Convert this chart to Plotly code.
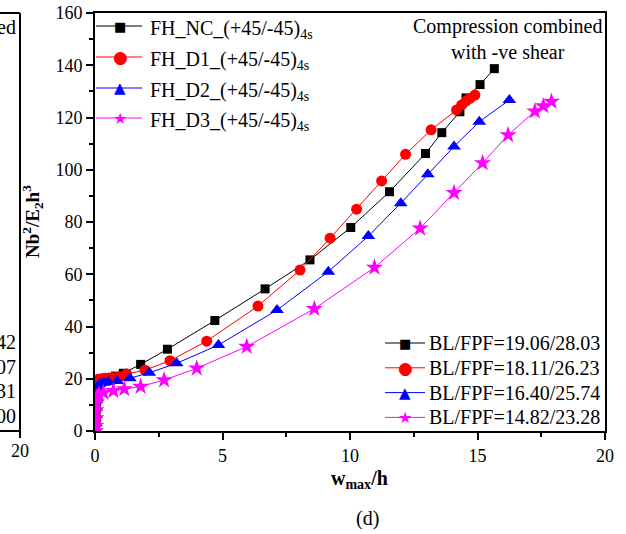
import plotly.graph_objects as go

# ---- data ----
nc_x = [0.02, 0.03, 0.04, 0.05, 0.06, 0.08, 0.12, 0.2, 0.35, 0.55, 0.8, 1.11, 1.79, 2.84, 4.7,
        6.67, 8.43, 10.03, 11.55, 12.96, 13.6, 14.31, 14.55, 15.1, 15.66]
nc_y = [0, 3, 6, 9, 12, 15, 17, 18.5, 19.5, 20.3, 21, 22.1, 25.5, 31.3, 42.3,
        54.4, 65.5, 77.9, 91.6, 106.2, 114.2, 122.2, 127.5, 132.6, 138.7]

d1_x = [0.02, 0.03, 0.04, 0.05, 0.07, 0.1, 0.13, 0.25, 0.39, 0.55, 0.72, 0.95, 1.24, 1.96, 2.94,
        4.38, 6.39, 8.04, 9.22, 10.26, 11.24, 12.18, 13.18, 14.18, 14.38, 14.55, 14.7, 14.9]
d1_y = [0, 4, 8, 12, 15, 17.5, 19.8, 20, 20.2, 20.3, 20.4, 20.8, 21.8, 23.3, 26.9,
        34.4, 47.8, 61.6, 73.8, 84.9, 95.7, 105.9, 115.3, 122.9, 124.8, 126.3, 127.3, 128.6]

d2_x = [0.02, 0.03, 0.04, 0.05, 0.06, 0.08, 0.12, 0.2, 0.35, 0.52, 0.87, 1.37, 2.13, 3.2, 4.84,
        7.14, 9.15, 10.72, 11.99, 13.05, 14.08, 15.07, 16.25]
d2_y = [0, 3, 6, 9, 12, 15, 17, 18.2, 18.5, 18.8, 19.1, 20.2, 22.3, 25.9, 32.9,
        46.3, 61, 74.6, 87.2, 98.3, 108.9, 118.4, 126.7]

d3_x = [0.02, 0.03, 0.04, 0.04, 0.05, 0.08, 0.15, 0.33, 0.72, 1.15, 1.79, 2.71, 3.99, 5.95,
        8.6, 10.96, 12.75, 14.08, 15.2, 16.2, 17.25, 17.58, 17.9]
d3_y = [0, 2, 5, 8, 11, 13, 14, 14.7, 15.4, 16.1, 17.0, 19.5, 24.0, 32.3,
        46.8, 62.6, 77.6, 91.2, 102.6, 113.3, 122.4, 124.4, 126.1]

names1 = ["FH_NC_(+45/-45)<sub>4s</sub>", "FH_D1_(+45/-45)<sub>4s</sub>",
          "FH_D2_(+45/-45)<sub>4s</sub>", "FH_D3_(+45/-45)<sub>4s</sub>"]
names2 = ["BL/FPF=19.06/28.03", "BL/FPF=18.11/26.23",
          "BL/FPF=16.40/25.74", "BL/FPF=14.82/23.28"]
colors = ["#000000", "#FF0000", "#0000FF", "#FF00FF"]
symbols = ["square", "circle", "triangle-up", "star"]
msizes = [9, 11, 12, 13]
glyphs = ["\u25A0", "\u25CF", "\u25B2", "\u2605"]
glyph_sizes = [13, 17, 15, 16]

xs = [nc_x, d1_x, d2_x, d3_x]
ys = [nc_y, d1_y, d2_y, d3_y]

FONT = "Liberation Serif, Times New Roman, serif"

# layout geometry (pixels)
W, H = 626, 534
L, R, T, B = 95, 605, 13, 431


def px(x):
    return (x - L) / (R - L)


def py(y):
    return (B - y) / (B - T)


fig = go.Figure()
for i in range(4):
    fig.add_trace(go.Scatter(
        x=xs[i], y=ys[i], mode="lines+markers", name=names1[i],
        line=dict(color=colors[i], width=1),
        marker=dict(symbol=symbols[i], size=msizes[i], color=colors[i], line=dict(width=0)),
        showlegend=False,
    ))

axis_common = dict(
    showline=True, linecolor="black", linewidth=2, mirror=True,
    ticks="outside", ticklen=7, tickwidth=2, tickcolor="black",
    showgrid=False, zeroline=False, automargin=False,
    tickfont=dict(family=FONT, size=18, color="black"),
)

fig.update_xaxes(range=[0, 20], tickvals=[0, 5, 10, 15, 20],
                 minor=dict(dtick=2.5, ticks="outside", ticklen=4, tickwidth=2, tickcolor="black"),
                 **axis_common)
fig.update_yaxes(range=[0, 160], tickvals=[0, 20, 40, 60, 80, 100, 120, 140, 160],
                 minor=dict(dtick=10, ticks="outside", ticklen=4, tickwidth=2, tickcolor="black"),
                 **axis_common)


def ann(x, y, text, size, xanchor="center", **kw):
    d = dict(x=px(x), y=py(y), xref="paper", yref="paper", showarrow=False,
             xanchor=xanchor, yanchor="middle", text=text,
             font=dict(family=FONT, size=size, color=kw.pop("color", "black")))
    d.update(kw)
    return d


annotations = [
    ann(507, 39, "Compression combined<br>with -ve shear", 20, align="center"),
    ann(359, 479, "<b>w<sub>max</sub>/h</b>", 20),
    ann(367, 518, "(d)", 20),
    ann(32, 222, "<b>Nb<sup>2</sup>/E<sub>2</sub>h<sup>3</sup></b>", 19, textangle=-90),
]
# fragments of the neighbouring panel, cut off at the left edge
frag = [("ed", 27), ("42", 342), ("07", 367), ("31", 391), ("00", 416)]
for t, yy in frag:
    annotations.append(ann(18, yy, t, 20, xanchor="right"))
annotations.append(ann(20, 451, "20", 18))

shapes = [
    dict(type="line", xref="paper", yref="paper", x0=px(-5), x1=px(20), y0=py(T), y1=py(T),
         line=dict(color="black", width=2)),
    dict(type="line", xref="paper", yref="paper", x0=px(-5), x1=px(20), y0=py(B), y1=py(B),
         line=dict(color="black", width=2)),
    dict(type="line", xref="paper", yref="paper", x0=px(20), x1=px(20), y0=py(T), y1=py(B + 7),
         line=dict(color="black", width=2)),
]


def add_key(rows, line_x0, line_x1, mark_x, text_x, labels, text_shift):
    for i, yy in enumerate(rows):
        shapes.append(dict(type="line", xref="paper", yref="paper",
                           x0=px(line_x0), x1=px(line_x1), y0=py(yy), y1=py(yy),
                           line=dict(color=colors[i], width=1)))
        annotations.append(dict(x=px(mark_x), y=py(yy), xref="paper", yref="paper",
                                showarrow=False, xanchor="center", yanchor="middle",
                                text=glyphs[i],
                                font=dict(family="DejaVu Sans", size=glyph_sizes[i],
                                          color=colors[i])))
        annotations.append(ann(text_x, yy, labels[i], 20, xanchor="left", yshift=text_shift))


# top-left key (series names) and bottom-right key (buckling / first-ply-failure loads)
add_key([26, 57, 88, 118], 96, 142, 120, 148, names1, -3)
add_key([343, 367.8, 392.6, 417.4], 385, 425, 405, 427, names2, 0)

fig.update_layout(
    width=W, height=H,
    margin=dict(l=L, r=W - R, t=T, b=H - B, autoexpand=False),
    plot_bgcolor="white", paper_bgcolor="white",
    font=dict(family=FONT, color="black"),
    annotations=annotations, shapes=shapes,
    showlegend=False,
)

fig.write_html("out.html")
